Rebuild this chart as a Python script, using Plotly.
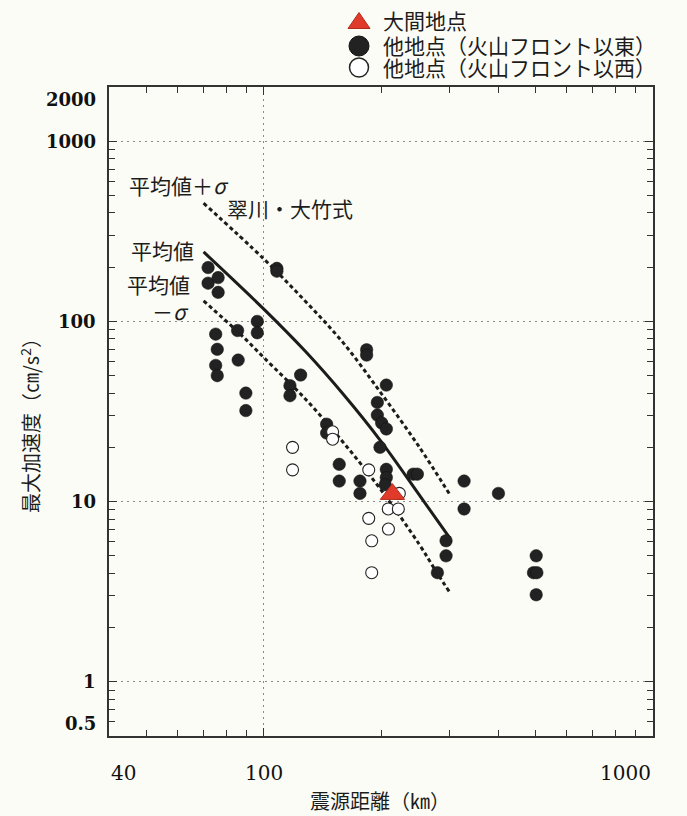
import math
import plotly.graph_objects as go

# ---------------- data ----------------
# 翠川・大竹式 curves (distance km, PGA cm/s^2)
mean_x = [70, 100, 128, 160, 200, 250, 300]
mean_y = [243, 117, 68, 39.4, 21.6, 11.0, 6.3]

plus_x = [70, 100, 128, 160, 200, 250, 300]
plus_y = [453, 222, 129, 76, 40, 20.3, 11.0]

minus_x = [70, 87, 100, 128, 160, 200, 250, 278, 300]
minus_y = [130, 85, 63, 37, 21.3, 11.6, 5.85, 4.05, 3.15]

# 大間地点
oma_x = [214]
oma_y = [11.0]

# 他地点（火山フロント以東）: filled circles
east_x = [71.9, 71.9, 76.3, 76.3, 75.2, 75.9, 75.2, 75.9, 85.6, 85.9,
          89.9, 89.9, 96.2, 96.2, 108, 108, 116.7, 116.7, 124.3, 183.7,
          183.7, 206.4, 195.7, 195.7, 200.8, 206.4, 145, 145, 198.8, 156.2,
          156.2, 176.6, 176.6, 206.4, 206.4, 205, 242, 248, 327, 327,
          400.7, 293.9, 293.9, 279.2, 501, 493, 503, 501]
east_y = [199, 163, 175, 145, 85, 70, 57, 50, 89, 61,
          40, 32, 100, 86.5, 197, 190, 44, 38.7, 50.4, 69.6,
          65, 44.3, 35.5, 30.2, 27.3, 25.3, 26.9, 24.0, 20.0, 16.1,
          13.0, 13.0, 11.1, 15.1, 13.6, 12.4, 14.2, 14.2, 13.0, 9.1,
          11.1, 6.06, 5.0, 4.03, 5.0, 4.03, 4.03, 3.04]

# 他地点（火山フロント以西）: open circles
west_x = [118.5, 118.5, 150.2, 150.2, 186, 222.9, 208.8, 221.6, 186, 209, 189.3, 189.3]
west_y = [20.0, 15.0, 24.4, 22.2, 15.0, 11.1, 9.1, 9.1, 8.07, 7.04, 6.06, 4.03]

# axis ticks
x_tickvals = [40, 100, 1000]
x_ticktext = ["40", "100", "1000"]
x_minor = [50, 60, 70, 80, 90, 200, 300, 400, 500, 600, 700, 800, 900]
y_tickvals = [0.5, 1, 10, 100, 1000, 2000]
y_ticktext = ["0.5", "1", "10", "100", "1000", "2000"]
y_minor = [0.6, 0.7, 0.8, 0.9, 2, 3, 4, 5, 6, 7, 8, 9,
           20, 30, 40, 50, 60, 70, 80, 90, 200, 300, 400, 500, 600, 700, 800, 900]

# ---------------- styling ----------------
BG = "#fcfcf6"
INK = "#1c1c1c"
RED = "#e03a2a"
CJK = "Noto Sans CJK JP"
SERIF = "DejaVu Serif"

fig = go.Figure()

line_common = dict(color=INK, width=3, shape="spline", smoothing=1.0)
fig.add_trace(go.Scatter(x=plus_x, y=plus_y, mode="lines",
                         line=dict(dash="4px,3px", **line_common),
                         showlegend=False, hoverinfo="skip"))
fig.add_trace(go.Scatter(x=mean_x, y=mean_y, mode="lines",
                         line=dict(**line_common),
                         showlegend=False, hoverinfo="skip"))
fig.add_trace(go.Scatter(x=minus_x, y=minus_y, mode="lines",
                         line=dict(dash="4px,3px", **line_common),
                         showlegend=False, hoverinfo="skip"))

fig.add_trace(go.Scatter(x=east_x, y=east_y, mode="markers",
                         marker=dict(symbol="circle", size=12.5, color="#222222",
                                     line=dict(width=0.5, color="#111111")),
                         showlegend=False))
fig.add_trace(go.Scatter(x=west_x, y=west_y, mode="markers",
                         marker=dict(symbol="circle", size=12, color="#ffffff",
                                     line=dict(width=1.1, color="#222222")),
                         showlegend=False))
fig.add_trace(go.Scatter(x=oma_x, y=oma_y, mode="markers",
                         marker=dict(symbol="triangle-up", size=21, color=RED,
                                     line=dict(width=1, color="#b02a1c")),
                         showlegend=False))

axis_common = dict(
    type="log", showline=True, linecolor="#333333", linewidth=1.5, mirror="allticks",
    ticks="inside", ticklen=8, tickwidth=1.3, tickcolor="#333333",
    showgrid=True, gridcolor="#8a8a8a", gridwidth=1.3, griddash="2px,4px",
    zeroline=False, showticklabels=False, tickmode="array",
)

fig.update_xaxes(
    range=[math.log10(40), math.log10(1000)], tickvals=x_tickvals,
    minor=dict(tickmode="array", tickvals=x_minor, ticks="inside", ticklen=6,
               tickwidth=1.3, tickcolor="#333333", showgrid=False),
    **axis_common,
)
fig.update_yaxes(
    range=[math.log10(0.5), math.log10(2000)], tickvals=y_tickvals,
    minor=dict(tickmode="array", tickvals=y_minor, ticks="inside", ticklen=6,
               tickwidth=1.3, tickcolor="#333333", showgrid=False),
    **axis_common,
)

L, R, T, B = 109, 34, 87, 80
W, H = 687, 816
PW, PH = W - L - R, H - T - B


def px(xp):
    return (xp - L) / PW


def py(yp):
    return (H - B - yp) / PH


annotations = []

# tick labels placed on the axes' own (log) scales; first/last kept inside the frame, as printed
for i, (v, t) in enumerate(zip(x_tickvals, x_ticktext)):
    anchor = "left" if i == 0 else ("right" if i == len(x_tickvals) - 1 else "center")
    annotations.append(dict(text=t, x=math.log10(v), xref="x", y=py(773), yref="paper",
                            xanchor=anchor, yanchor="middle", showarrow=False,
                            font=dict(family=SERIF, size=20, color="#111111")))
for i, (v, t) in enumerate(zip(y_tickvals, y_ticktext)):
    anchor = "bottom" if i == 0 else ("top" if i == len(y_tickvals) - 1 else "middle")
    annotations.append(dict(text=t, y=math.log10(v), yref="y", x=px(98), xref="paper",
                            xanchor="right", yanchor=anchor, showarrow=False,
                            font=dict(family=SERIF, size=18, color="#111111", weight="bold")))


def note(text, xp, yp, size=20, xanchor="left", yanchor="middle", angle=0):
    annotations.append(dict(text=text, x=px(xp), y=py(yp), xref="paper", yref="paper",
                            xanchor=xanchor, yanchor=yanchor, showarrow=False, textangle=angle,
                            font=dict(family=CJK, size=size, color=INK)))


# curve labels
note("平均値＋<i>σ</i>", 127, 184.5, size=21)
note("翠川・大竹式", 225, 208, size=21)
note("平均値", 129, 249.5, size=21)
note("平均値", 125, 284, size=21)
note("－<i>σ</i>", 150, 311, size=21)

# axis titles
note("最大加速度（㎝/s<sup>2</sup>）", 30, 421, size=20, xanchor="center", angle=-90)
note("震源距離（㎞）", 380, 800, size=20, xanchor="center")

# legend texts
note("大間地点", 381, 20, size=21)
note("他地点（火山フロント以東）", 381, 45, size=21)
note("他地点（火山フロント以西）", 381, 67, size=21)

shapes = [
    dict(type="path", xref="paper", yref="paper", xsizemode="pixel", ysizemode="pixel",
         xanchor=px(359), yanchor=py(21), path="M -11,-7.5 L 11,-7.5 L 0,8.5 Z",
         fillcolor=RED, line=dict(color="#b02a1c", width=1)),
    dict(type="circle", xref="paper", yref="paper", xsizemode="pixel", ysizemode="pixel",
         xanchor=px(359), yanchor=py(46), x0=-10, x1=10, y0=-10, y1=10,
         fillcolor="#222222", line=dict(color="#111111", width=1)),
    dict(type="circle", xref="paper", yref="paper", xsizemode="pixel", ysizemode="pixel",
         xanchor=px(359), yanchor=py(67.5), x0=-9.5, x1=9.5, y0=-9.5, y1=9.5,
         fillcolor="#ffffff", line=dict(color="#222222", width=1.5)),
]

fig.update_layout(
    width=W, height=H, margin=dict(l=L, r=R, t=T, b=B, pad=0),
    paper_bgcolor=BG, plot_bgcolor=BG,
    annotations=annotations, shapes=shapes, showlegend=False,
)

# remove the default 8px page margin so the figure sits at the window origin
fig.write_html("out.html", config={"displayModeBar": False},
               post_script="document.body.style.margin='0px';document.body.style.background='%s';" % BG)
